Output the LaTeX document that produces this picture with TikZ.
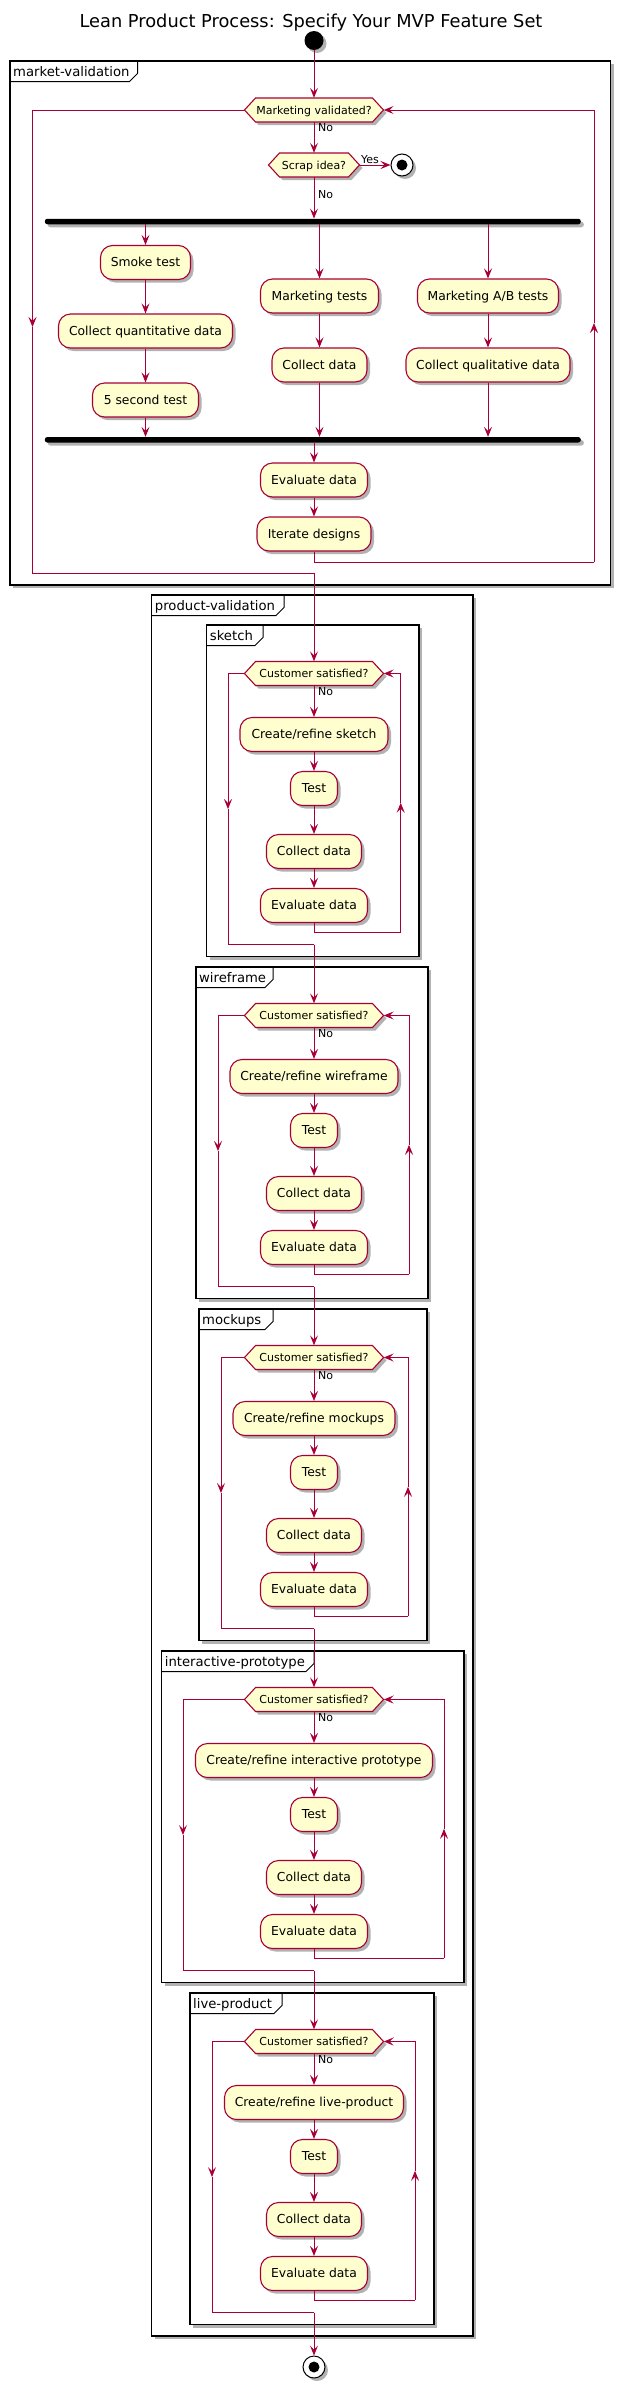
\documentclass[tikz,border=0pt]{standalone}
\usepackage{fontspec}
\setmainfont{DejaVu Sans}
\usetikzlibrary{arrows.meta,shadows,calc}
\definecolor{pred}{HTML}{A80036}
\definecolor{pfill}{HTML}{FEFECE}
\tikzset{
  shd/.style={drop shadow={shadow xshift=3pt,shadow yshift=-3pt,opacity=0.3,fill=black}},
  act/.style={draw=pred,fill=pfill,line width=1.1pt,rounded corners=12pt,minimum height=34pt,inner sep=0pt,text height=9.2pt,text depth=0.8pt,font=\fontsize{12.35}{14}\selectfont,shd},
  hexshape/.style={draw=pred,fill=pfill,line width=1.1pt,shd},
  hextxt/.style={inner sep=0pt,minimum height=24pt,text height=8pt,text depth=0pt,font=\fontsize{11}{13}\selectfont},
  flow/.style={draw=pred,line width=1pt,-{Stealth[length=10pt,width=8pt,inset=4pt]}},
  plainline/.style={draw=pred,line width=1pt},
  lbl/.style={inner sep=0pt,font=\fontsize{11}{13}\selectfont},
  frm/.style={draw=black,line width=1.5pt,fill=white,shd},
  frmtitle/.style={inner sep=0pt,font=\fontsize{13.2}{15}\selectfont},
  barnode/.style={fill=black,rounded corners=2.5pt,minimum height=5.5pt,inner sep=0pt,shd},
  startc/.style={circle,fill=black,minimum size=19pt,inner sep=0pt,shd},
  stopc/.style={circle,draw=black,fill=white,line width=1pt,minimum size=22pt,inner sep=0pt,shd},
}
% name, x, y, width, text
\newcommand{\hexnode}[5]{%
  \path[hexshape] ({#2-#4/2},#3) -- ({#2-#4/2+11},{#3-12}) -- ({#2+#4/2-11},{#3-12}) -- ({#2+#4/2},#3) -- ({#2+#4/2-11},{#3+12}) -- ({#2-#4/2+11},{#3+12}) -- cycle;
  \node[hextxt,minimum width=#4pt] (#1) at (#2,#3) {#5};
}
% name, left, top, right, bottom, tab right, title
\newcommand{\frameblk}[7]{%
  \draw[frm] (#2,#3) rectangle (#4,#5);
  \draw[line width=1pt] (#2,{#3+20.5}) -- ({#6-8},{#3+20.5}) -- (#6,{#3+12.5}) -- (#6,#3);
  \node[frmtitle,anchor=base west] (#1) at ({#2+3},{#3+15.5}) {#7};
}
% top, left, right, tabright, title, create text, create width, loop left x, loop right x
\newcommand{\stage}[9]{%
  \frameblk{\sn-f}{#2}{#1}{#3}{#1+331.5}{#4}{#5}
  \hexnode{\sn-h}{314}{#1+48.5}{139}{Customer satisfied?}
  \draw[flow] (\prevexit) -- (\sn-h.north);
  \node[lbl,anchor=west] (\sn-no) at (318,{#1+66.5}) {No};
  \node[act,minimum width=#7pt] (\sn-c) at (314,{#1+109.5}) {#6};
  \node[act,minimum width=47pt] (\sn-t) at (314,{#1+163.5}) {Test};
  \node[act,minimum width=95pt] (\sn-d) at (314,{#1+226.5}) {Collect data};
  \node[act,minimum width=107pt] (\sn-e) at (314,{#1+280.5}) {Evaluate data};
  \draw[flow] (\sn-h.south) -- (\sn-c.north);
  \draw[flow] (\sn-c.south) -- (\sn-t.north);
  \draw[flow] (\sn-t.south) -- (\sn-d.north);
  \draw[flow] (\sn-d.south) -- (\sn-e.north);
  \coordinate (\sn-rb) at (#9,{#1+307});
  \coordinate (\sn-rm) at (#9,{#1+177.75});
  \coordinate (\sn-rt) at (#9,{#1+48.5});
  \draw[plainline] (\sn-e.south) |- (\sn-rb);
  \draw[flow] (\sn-rb) -- (\sn-rm);
  \draw[flow] (\sn-rm) -- (\sn-rt) -- (\sn-h.east);
  \coordinate (\sn-lt) at (#8,{#1+48.5});
  \coordinate (\sn-lm) at (#8,{#1+184});
  \coordinate (\sn-lb) at (#8,{#1+319.5});
  \coordinate (\sn-x) at (314,{#1+319.5});
  \draw[flow] (\sn-h.west) -- (\sn-lt) -- (\sn-lm);
  \draw[plainline] (\sn-lm) -- (\sn-lb) -- (\sn-x);
  \edef\prevexit{\sn-x}%
}
\begin{document}
\begin{tikzpicture}[x=1pt,y=-1pt]
\useasboundingbox (0,0) rectangle (620,2388);
\node[font=\fontsize{17.8}{20}\selectfont,anchor=base,inner sep=0pt] (title) at (311,27) {Lean Product Process: Specify Your MVP Feature Set};
\frameblk{mvf}{10}{61}{610.5}{585}{137.5}{market-validation}
\frameblk{pvf}{151.7}{595}{473}{2336}{284}{product-validation}
\node[startc] (start) at (314,40.5) {};
\hexnode{mv}{314}{110}{139}{Marketing validated?}
\hexnode{scrap}{314}{165}{91}{Scrap idea?}
\node[stopc] (stopA) at (402,165) {};
\fill (stopA.center) circle (5.5pt);
\node[barnode,minimum width=536pt] (fork) at (312.8,221.5) {};
\node[act,minimum width=90pt] (smoke) at (145.5,262.5) {Smoke test};
\node[act,minimum width=174pt] (cqd) at (145.5,331) {Collect quantitative data};
\node[act,minimum width=106pt] (five) at (145.5,400) {5 second test};
\node[act,minimum width=118pt] (mkt) at (319.5,296) {Marketing tests};
\node[act,minimum width=95pt] (cd) at (319.5,365) {Collect data};
\node[act,minimum width=141pt] (ab) at (488,296) {Marketing A/B tests};
\node[act,minimum width=164pt] (cq) at (488,365) {Collect qualitative data};
\node[barnode,minimum width=536pt] (join) at (312.8,439.8) {};
\node[act,minimum width=107pt] (ev) at (314,480) {Evaluate data};
\node[act,minimum width=114pt] (it) at (314,534) {Iterate designs};
\draw[flow] (start.south) -- (mv.north);
\draw[flow] (mv.south) -- (scrap.north);
\node[lbl,anchor=west] (no1) at (318,128) {No};
\draw[flow] (scrap.east) -- (stopA.west);
\node[lbl,anchor=base west] (yes1) at (361,163) {Yes};
\draw[flow] (scrap.south) -- (scrap.south |- fork.north);
\node[lbl,anchor=west] (no2) at (318,195) {No};
\draw[flow] (smoke.north |- fork.south) -- (smoke.north);
\draw[flow] (smoke.south) -- (cqd.north);
\draw[flow] (cqd.south) -- (five.north);
\draw[flow] (five.south) -- (five.south |- join.north);
\draw[flow] (mkt.north |- fork.south) -- (mkt.north);
\draw[flow] (mkt.south) -- (cd.north);
\draw[flow] (cd.south) -- (cd.south |- join.north);
\draw[flow] (ab.north |- fork.south) -- (ab.north);
\draw[flow] (ab.south) -- (cq.north);
\draw[flow] (cq.south) -- (cq.south |- join.north);
\draw[flow] (ev.north |- join.south) -- (ev.north);
\draw[flow] (ev.south) -- (it.north);
\coordinate (mrb) at (594,562);
\coordinate (mrm) at (594,323);
\coordinate (mrt) at (594,110);
\draw[plainline] (it.south) |- (mrb);
\draw[flow] (mrb) -- (mrm);
\draw[flow] (mrm) -- (mrt) -- (mv.east);
\coordinate (mlt) at (32.5,110);
\coordinate (mlm) at (32.5,327);
\coordinate (mlb) at (32.5,573);
\coordinate (mexit) at (314,573);
\draw[flow] (mv.west) -- (mlt) -- (mlm);
\draw[plainline] (mlm) -- (mlb) -- (mexit);
\def\prevexit{mexit}
\def\sn{s1}\stage{625}{206.7}{419}{263}{sketch}{Create/refine sketch}{148}{228}{400.7}
\def\sn{s2}\stage{967}{196}{428}{273}{wireframe}{Create/refine wireframe}{168}{218}{409}
\def\sn{s3}\stage{1309}{199}{427}{273}{mockups}{Create/refine mockups}{162}{221}{408}
\def\sn{s4}\stage{1651}{161.7}{464}{314}{interactive-prototype}{Create/refine interactive prototype}{237}{183}{444}
\def\sn{s5}\stage{1993}{190}{434}{282}{live-product}{Create/refine live-product}{179}{212}{415}
\node[stopc] (endc) at (314,2367) {};
\fill (endc.center) circle (5.5pt);
\draw[flow] (\prevexit) -- (endc.north);
\end{tikzpicture}
\end{document}
